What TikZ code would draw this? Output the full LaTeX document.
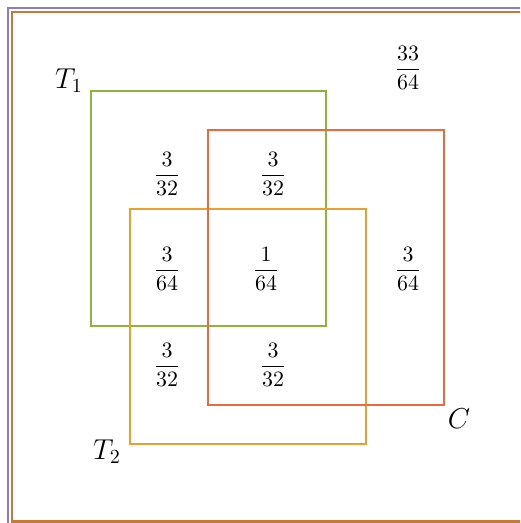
\documentclass[tikz,border=0pt]{standalone}
\usepackage{xcolor}
\usepackage{tikz}
\usepackage{amsmath}
\usetikzlibrary{positioning}
\definecolor{vnTone}{HTML}{8CB43A}
\definecolor{vnCase}{HTML}{EE6A3C}
\definecolor{vnTtwo}{HTML}{EAA030}
\definecolor{vnOuter}{HTML}{8C7CC8}
\definecolor{vnFrame}{HTML}{C47A38}
\tikzset{
  setbox/.style={line width=1.2pt},
  frame/.style={line width=1.2pt},
  prob/.style={font=\fontsize{11}{13}\selectfont, inner sep=1pt},
  setname/.style={font=\Large, inner sep=1pt}
}
\begin{document}
\begin{tikzpicture}[x=0.5pt, y=0.5pt]
  \clip (0,0) rectangle (520,523);
  % universe
  \draw[frame, vnOuter] (8,515) rectangle (560,-40);
  \draw[frame, vnFrame] (12,511) rectangle (560,1.5);
  % the three sets
  \draw[setbox, vnTone] (91,432) rectangle (326,197);
  \draw[setbox, vnTtwo] (130,314) rectangle (366,79);
  \draw[setbox, vnCase] (208,393) rectangle (444,118);
  \node[setname] (t1) at (69,442) {$T_1$};
  \node[setname] (t2) at (107,71) {$T_2$};
  \node[setname] (c) at (459,104) {$C$};
  % probabilities
  \node[prob] (out) at (408,455) {$\dfrac{33}{64}$};
  \node[prob] (a) at (167,349) {$\dfrac{3}{32}$};
  \node[prob] (b) at (273,349) {$\dfrac{3}{32}$};
  \node[prob] (d) at (167,254) {$\dfrac{3}{64}$};
  \node[prob] (e) at (266,254) {$\dfrac{1}{64}$};
  \node[prob] (f) at (408,254) {$\dfrac{3}{64}$};
  \node[prob] (g) at (167,158) {$\dfrac{3}{32}$};
  \node[prob] (h) at (273,158) {$\dfrac{3}{32}$};
\end{tikzpicture}
\end{document}
